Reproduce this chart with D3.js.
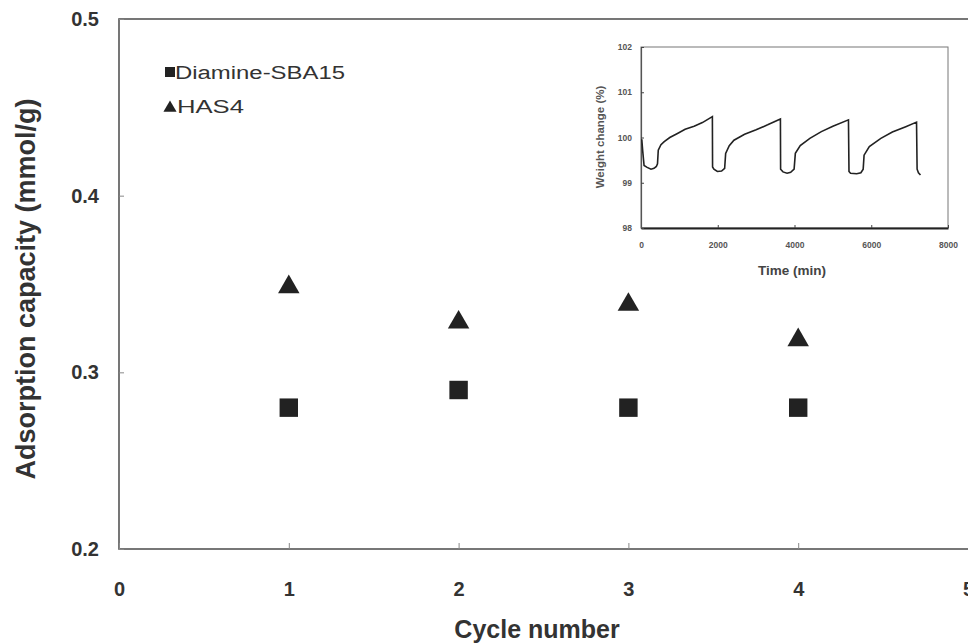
<!DOCTYPE html>
<html>
<head>
<meta charset="utf-8">
<script src="https://cdn.jsdelivr.net/npm/d3@7"></script>
<style>
  body { margin: 0; background: #fff; }
  svg { display: block; font-family: "Liberation Sans", Arial, sans-serif; }
</style>
</head>
<body>
<div id="container"></div>
<script>
// main data
const cycles = [1, 2, 3, 4];
const diamineSBA15 = [0.28, 0.29, 0.28, 0.28];
const has4 = [0.35, 0.33, 0.34, 0.32];
const xTicks = [0, 1, 2, 3, 4, 5];
const yTicks = [0.2, 0.3, 0.4, 0.5];

// inset: weight change vs time
const insetTime = [20, 45, 80, 160, 260, 340, 400, 430, 450, 520, 605, 750, 950, 1150, 1384, 1600, 1860,
  1865, 1900, 1990, 2100, 2180, 2206, 2300, 2422, 2700, 3000, 3300, 3633,
  3638, 3700, 3806, 3900, 3990, 4022, 4150, 4400, 4700, 5000, 5406,
  5420, 5460, 5622, 5730, 5790, 5813, 5950, 6250, 6550, 6900, 7180,
  7195, 7230, 7283];
const insetWeight = [99.96, 99.7, 99.38, 99.34, 99.3, 99.32, 99.36, 99.42, 99.72, 99.84, 99.91, 100.0, 100.09, 100.18, 100.25, 100.33, 100.46,
  99.35, 99.3, 99.25, 99.26, 99.32, 99.65, 99.82, 99.94, 100.07, 100.17, 100.28, 100.41,
  99.3, 99.24, 99.21, 99.23, 99.3, 99.65, 99.82, 99.98, 100.13, 100.25, 100.39,
  99.25, 99.21, 99.2, 99.22, 99.3, 99.61, 99.8, 99.98, 100.12, 100.24, 100.34,
  99.3, 99.22, 99.17];
const insetXTicks = [0, 2000, 4000, 6000, 8000];
const insetYTicks = [98, 99, 100, 101, 102];

const width = 968, height = 644;
const ink = "#222";

const svg = d3.select("#container")
  .append("svg")
  .attr("width", width)
  .attr("height", height);

const x = d3.scaleLinear().domain([0, 5]).range([119, 968]);
const y = d3.scaleLinear().domain([0.2, 0.5]).range([549, 19]);

// frame
svg.append("rect")
  .attr("x", x(0)).attr("y", y(0.5))
  .attr("width", x(5) - x(0) + 2).attr("height", y(0.2) - y(0.5))
  .attr("fill", "none").attr("stroke", "#555").attr("stroke-width", 1.6);

const xAxis = d3.axisBottom(x).tickValues(xTicks).tickFormat(d3.format("d"))
  .tickSizeInner(-6).tickSizeOuter(0).tickPadding(33);
const yAxis = d3.axisLeft(y).tickValues(yTicks).tickFormat(d3.format(".1f"))
  .tickSizeInner(-5).tickSizeOuter(0).tickPadding(20);

const gx = svg.append("g").attr("transform", `translate(0,${y(0.2)})`).call(xAxis);
const gy = svg.append("g").attr("transform", `translate(${x(0)},0)`).call(yAxis);

[gx, gy].forEach(g => {
  g.select(".domain").remove();
  g.selectAll(".tick line").attr("stroke", "#888").attr("stroke-width", 1);
  g.selectAll(".tick text").attr("fill", "#333").attr("font-size", 20).attr("font-weight", "bold");
});

// axis titles
svg.append("text")
  .attr("x", 537).attr("y", 638)
  .attr("text-anchor", "middle")
  .attr("font-size", 25).attr("font-weight", "bold").attr("fill", "#333")
  .text("Cycle number");

svg.append("text")
  .attr("transform", `translate(35,289) rotate(-90)`)
  .attr("text-anchor", "middle")
  .attr("font-size", 27).attr("font-weight", "bold").attr("fill", "#333")
  .text("Adsorption capacity (mmol/g)");

// markers
const square = d3.symbol().type(d3.symbolSquare).size(340);
const triangle = d3.symbol().type(d3.symbolTriangle).size(200);

svg.append("g").selectAll("path")
  .data(cycles)
  .join("path")
  .attr("d", square)
  .attr("transform", (d, i) => `translate(${x(d)},${y(diamineSBA15[i])})`)
  .attr("fill", ink);

svg.append("g").selectAll("path")
  .data(cycles)
  .join("path")
  .attr("d", triangle)
  .attr("transform", (d, i) => `translate(${x(d)},${y(has4[i]) + 3})`)
  .attr("fill", ink);

// legend
const legend = svg.append("g");
legend.append("path").attr("d", d3.symbol().type(d3.symbolSquare).size(100))
  .attr("transform", "translate(170,72)").attr("fill", ink);
legend.append("text").attr("x", 175).attr("y", 79)
  .attr("font-size", 18).attr("fill", "#333")
  .attr("textLength", 170).attr("lengthAdjust", "spacingAndGlyphs")
  .text("Diamine-SBA15");
legend.append("path").attr("d", d3.symbol().type(d3.symbolTriangle).size(75))
  .attr("transform", "translate(170,108)").attr("fill", ink);
legend.append("text").attr("x", 177).attr("y", 113)
  .attr("font-size", 18).attr("fill", "#333")
  .attr("textLength", 67).attr("lengthAdjust", "spacingAndGlyphs")
  .text("HAS4");

// inset
const ix = d3.scaleLinear().domain([0, 8000]).range([641, 948]);
const iy = d3.scaleLinear().domain([98, 102]).range([228, 47]);
const inset = svg.append("g");

inset.append("rect")
  .attr("x", ix(0)).attr("y", iy(102))
  .attr("width", ix(8000) - ix(0)).attr("height", iy(98) - iy(102))
  .attr("fill", "#fff").attr("stroke", "#777").attr("stroke-width", 1);

const igx = inset.append("g").attr("transform", `translate(0,${iy(98)})`)
  .call(d3.axisBottom(ix).tickValues(insetXTicks).tickFormat(d3.format("d"))
    .tickSizeInner(-3).tickSizeOuter(0).tickPadding(14));
const igy = inset.append("g").attr("transform", `translate(${ix(0)},0)`)
  .call(d3.axisLeft(iy).tickValues(insetYTicks).tickFormat(d3.format("d"))
    .tickSizeInner(-3).tickSizeOuter(0).tickPadding(9));

igx.select(".domain").attr("stroke", "#222").attr("stroke-width", 1.8);
igy.select(".domain").attr("stroke", "#555").attr("stroke-width", 1.2);
[igx, igy].forEach(g => {
  g.selectAll(".tick line").attr("stroke", "#444");
  g.selectAll(".tick text").attr("fill", "#555").attr("font-size", 8.5).attr("font-weight", "bold");
});

inset.append("text")
  .attr("x", 792).attr("y", 275)
  .attr("text-anchor", "middle")
  .attr("font-size", 13.5).attr("font-weight", "bold").attr("fill", "#444")
  .text("Time (min)");
inset.append("text")
  .attr("transform", `translate(604,137) rotate(-90)`)
  .attr("text-anchor", "middle")
  .attr("font-size", 11.5).attr("font-weight", "bold").attr("fill", "#555")
  .text("Weight change (%)");

const line = d3.line()
  .x((d, i) => ix(insetTime[i]))
  .y(d => iy(d));

inset.append("path")
  .datum(insetWeight)
  .attr("d", line)
  .attr("fill", "none").attr("stroke", "#222").attr("stroke-width", 1.6);
</script>
</body>
</html>
